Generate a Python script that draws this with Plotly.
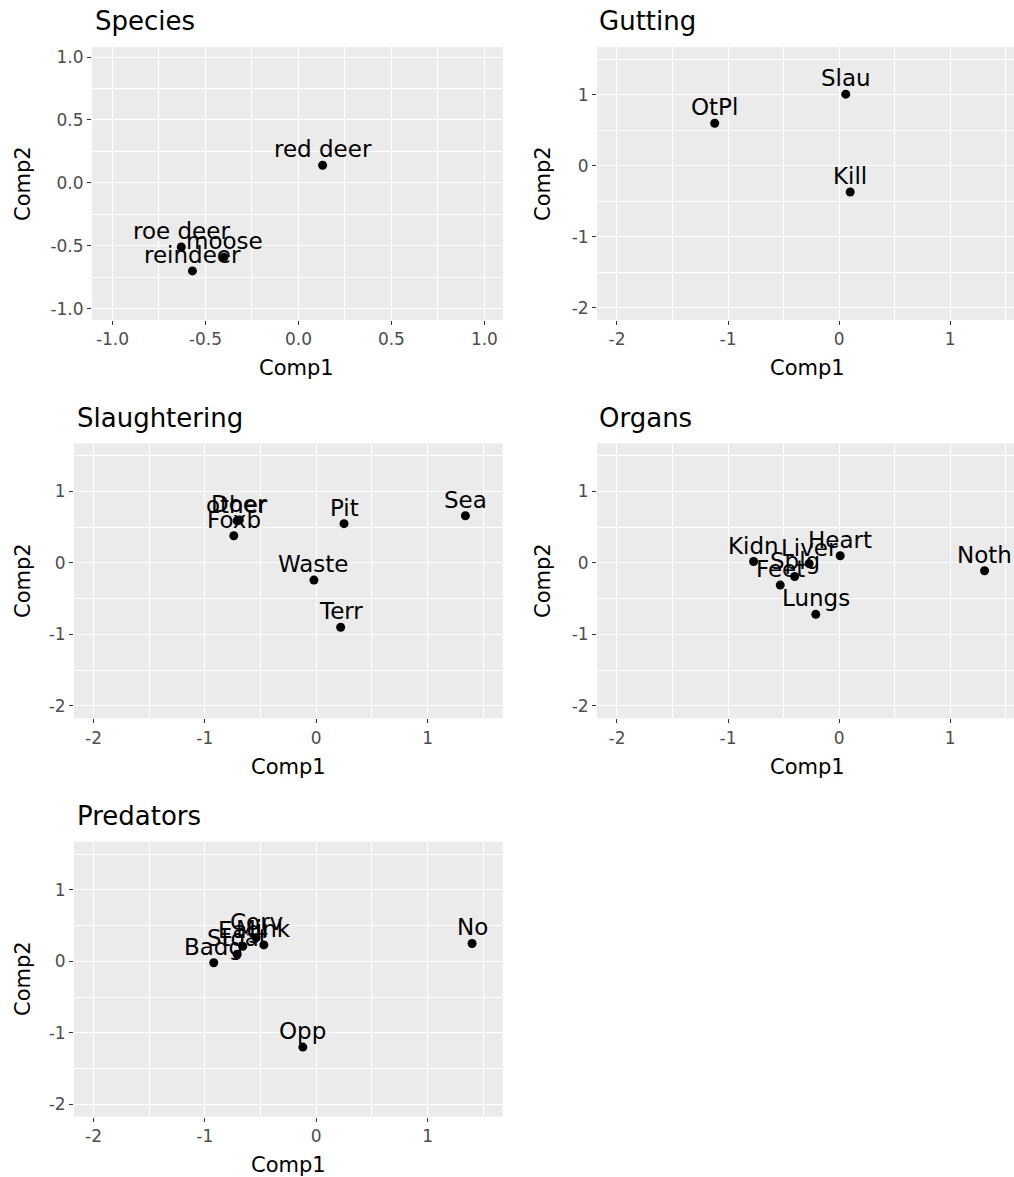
import plotly.graph_objects as go

# ---------------- data ----------------
species_names = ["red deer", "roe deer", "moose", "reindeer"]
species_c1 = [0.13, -0.63, -0.40, -0.57]
species_c2 = [0.14, -0.51, -0.59, -0.70]

gutting_names = ["OtPl", "Slau", "Kill"]
gutting_c1 = [-1.12, 0.06, 0.10]
gutting_c2 = [0.60, 1.01, -0.37]

slaughter_names = ["Foxb", "other", "Doer", "Pit", "Sea", "Waste", "Terr"]
slaughter_c1 = [-0.74, -0.71, -0.69, 0.25, 1.34, -0.02, 0.22]
slaughter_c2 = [0.38, 0.59, 0.60, 0.55, 0.66, -0.24, -0.90]

organ_names = ["Kidn", "Feet", "Splg", "Liver", "Heart", "Lungs", "Noth"]
organ_c1 = [-0.77, -0.53, -0.40, -0.27, 0.01, -0.21, 1.31]
organ_c2 = [0.02, -0.31, -0.19, -0.01, 0.10, -0.72, -0.11]

predator_names = ["Badg", "Stoat", "Eagl", "Corv", "Mink", "Opp", "No"]
predator_c1 = [-0.92, -0.71, -0.66, -0.54, -0.47, -0.12, 1.40]
predator_c2 = [-0.02, 0.10, 0.21, 0.33, 0.23, -1.20, 0.25]

species_ticks = [-1.0, -0.5, 0.0, 0.5, 1.0]
species_ticktext = ["-1.0", "-0.5", "0.0", "0.5", "1.0"]
species_minor = [-0.75, -0.25, 0.25, 0.75]

wide_ticks = [-2, -1, 0, 1]
wide_ticktext = ["-2", "-1", "0", "1"]
wide_minor = [-1.5, -0.5, 0.5, 1.5]

panel_titles = ["Species", "Gutting", "Slaughtering", "Organs", "Predators"]

# ---------------- layout ----------------
W, H = 1014, 1177
FONT = "DejaVu Sans"


def px(v):
    return v / W


def py(v):
    return 1 - v / H


panels = [
    dict(x=species_c1, y=species_c2, t=species_names, dom=(92, 503, 47, 320),
         xr=[-1.11, 1.10], yr=[-1.09, 1.08], ticks=species_ticks, tt=species_ticktext,
         minor=species_minor, title=(93, 21), xt=(296, 368), yt=(23, 184)),
    dict(x=gutting_c1, y=gutting_c2, t=gutting_names, dom=(597, 1014, 47, 320),
         xr=[-2.18, 1.575], yr=[-2.175, 1.675], ticks=wide_ticks, tt=wide_ticktext,
         minor=wide_minor, title=(597, 21), xt=(807, 368), yt=(543, 184)),
    dict(x=slaughter_c1, y=slaughter_c2, t=slaughter_names, dom=(74, 502.7, 443.3, 718.3),
         xr=[-2.175, 1.675], yr=[-2.175, 1.675], ticks=wide_ticks, tt=wide_ticktext,
         minor=wide_minor, title=(75, 418), xt=(288, 767), yt=(23, 581)),
    dict(x=organ_c1, y=organ_c2, t=organ_names, dom=(597, 1014, 443.3, 718.3),
         xr=[-2.18, 1.575], yr=[-2.175, 1.675], ticks=wide_ticks, tt=wide_ticktext,
         minor=wide_minor, title=(597, 418), xt=(807, 767), yt=(543, 581)),
    dict(x=predator_c1, y=predator_c2, t=predator_names, dom=(74, 502.7, 841.7, 1116.7),
         xr=[-2.175, 1.675], yr=[-2.175, 1.675], ticks=wide_ticks, tt=wide_ticktext,
         minor=wide_minor, title=(75, 816), xt=(288, 1165), yt=(23, 979)),
]

fig = go.Figure()
annotations = []
layout_axes = {}

for i, p in enumerate(panels):
    n = i + 1
    xa = "x" if n == 1 else f"x{n}"
    ya = "y" if n == 1 else f"y{n}"
    fig.add_trace(go.Scatter(
        x=p["x"], y=p["y"], mode="markers", cliponaxis=False,
        marker=dict(color="black", size=9),
        xaxis=xa, yaxis=ya, showlegend=False, hoverinfo="skip",
    ))
    # point labels, slightly above each point
    for lx, ly, lt in zip(p["x"], p["y"], p["t"]):
        annotations.append(dict(text=lt, x=lx, y=ly, xref=xa, yref=ya,
                                xanchor="center", yanchor="middle", yshift=16,
                                showarrow=False,
                                font=dict(family=FONT, size=23, color="black")))
    x0, x1, y0, y1 = p["dom"]
    axis_common = dict(
        showgrid=True, gridcolor="white", gridwidth=1.3, zeroline=False,
        showline=False, ticks="outside", ticklen=4, tickwidth=1.1,
        tickcolor="#333333", tickmode="array", tickvals=p["ticks"], ticktext=p["tt"],
        tickfont=dict(family=FONT, size=17, color="#4D4D4D"),
        minor=dict(tickvals=p["minor"], showgrid=True, gridcolor="white",
                   gridwidth=0.6, ticklen=0),
        fixedrange=True,
    )
    xkey = "xaxis" if n == 1 else f"xaxis{n}"
    ykey = "yaxis" if n == 1 else f"yaxis{n}"
    layout_axes[xkey] = dict(axis_common, domain=[px(x0), min(px(x1), 1.0)],
                             range=p["xr"], anchor=ya)
    layout_axes[ykey] = dict(axis_common, domain=[py(y1), py(y0)],
                             range=p["yr"], anchor=xa)
    # panel title
    annotations.append(dict(text=panel_titles[i], xref="paper", yref="paper",
                            x=px(p["title"][0]), y=py(p["title"][1]),
                            xanchor="left", yanchor="middle", showarrow=False,
                            font=dict(family=FONT, size=26, color="black")))
    annotations.append(dict(text="Comp1", xref="paper", yref="paper",
                            x=px(p["xt"][0]), y=py(p["xt"][1]),
                            xanchor="center", yanchor="middle", showarrow=False,
                            font=dict(family=FONT, size=21, color="black")))
    annotations.append(dict(text="Comp2", xref="paper", yref="paper",
                            x=px(p["yt"][0]), y=py(p["yt"][1]), textangle=-90,
                            xanchor="center", yanchor="middle", showarrow=False,
                            font=dict(family=FONT, size=21, color="black")))

fig.update_layout(
    width=W, height=H, margin=dict(l=0, r=0, t=0, b=0),
    paper_bgcolor="white", plot_bgcolor="#EBEBEB",
    template="none", annotations=annotations,
    font=dict(family=FONT),
    **layout_axes,
)

fig.write_html("out.html", config={"displayModeBar": False},
               post_script="document.body.style.margin='0';")
